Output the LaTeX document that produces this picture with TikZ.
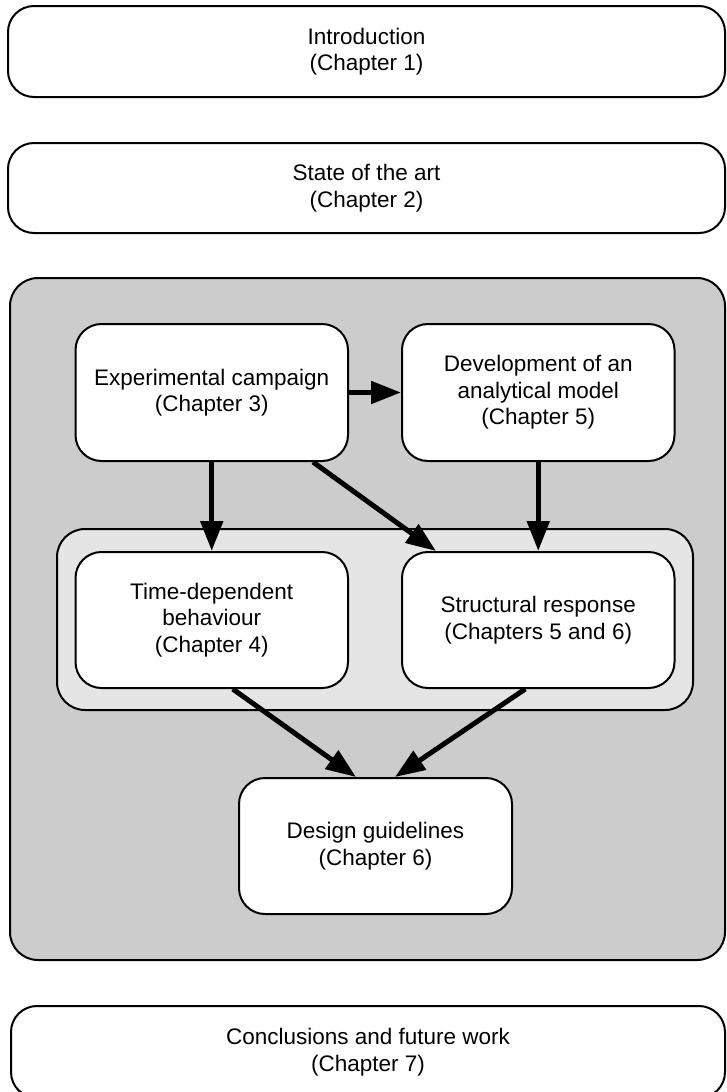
\documentclass[tikz,border=0pt]{standalone}
\usepackage{fontspec}
\setmainfont{Liberation Sans}
\usetikzlibrary{arrows.meta}
\definecolor{outergray}{HTML}{CCCCCC}
\definecolor{innergray}{HTML}{E5E5E5}
\tikzset{
  box/.style={draw=black, line width=2pt, fill=white, rounded corners=26pt, align=center,
    inner sep=0pt, font=\fontsize{22.5}{26.5}\selectfont},
  panel/.style={draw=black, line width=2pt, rounded corners=28pt, inner sep=0pt},
  flow/.style={line width=5pt, -{Triangle[length=30pt,width=22pt]}},
}
\begin{document}
\begin{tikzpicture}[x=1pt,y=-1pt]
\useasboundingbox (0,0) rectangle (726,1092);
\node[box, minimum width=717pt, minimum height=91pt] (intro) at (366.5,51.5) {Introduction\\(Chapter 1)};
\node[box, minimum width=717pt, minimum height=90pt] (state) at (366.5,188) {State of the art\\(Chapter 2)};
\node[panel, fill=outergray, minimum width=715pt, minimum height=682pt] (big) at (367.5,619) {};
\node[panel, fill=innergray, minimum width=636pt, minimum height=181pt] (light) at (375,619.5) {};
\node[box, minimum width=272.5pt, minimum height=137pt] (exp) at (211.75,392.5) {Experimental campaign\\(Chapter 3)};
\node[box, minimum width=272.5pt, minimum height=137pt] (dev) at (538.25,392.5) {Development of an\\analytical model\\(Chapter 5)};
\node[box, minimum width=272.5pt, minimum height=136pt] (time) at (211.75,620) {Time-dependent\\behaviour\\(Chapter 4)};
\node[box, minimum width=272.5pt, minimum height=136pt] (struct) at (538.25,620) {Structural response\\(Chapters 5 and 6)};
\node[box, minimum width=273pt, minimum height=136pt] (design) at (375.5,846) {Design guidelines\\(Chapter 6)};
\node[box, minimum width=714pt, minimum height=92pt] (concl) at (368,1052) {Conclusions and future work\\(Chapter 7)};
\draw[flow] (exp.east) -- (dev.west);
\draw[flow] (exp.south) -- (time.north);
\draw[flow] (dev.south) -- (struct.north);
\draw[flow] ([xshift=-36pt]exp.south east) -- ([xshift=35pt]struct.north west);
\draw[flow] ([xshift=21pt]time.south) -- ([xshift=-19.5pt]design.north);
\draw[flow] ([xshift=-13pt]struct.south) -- ([xshift=19.5pt]design.north);
\end{tikzpicture}
\end{document}
